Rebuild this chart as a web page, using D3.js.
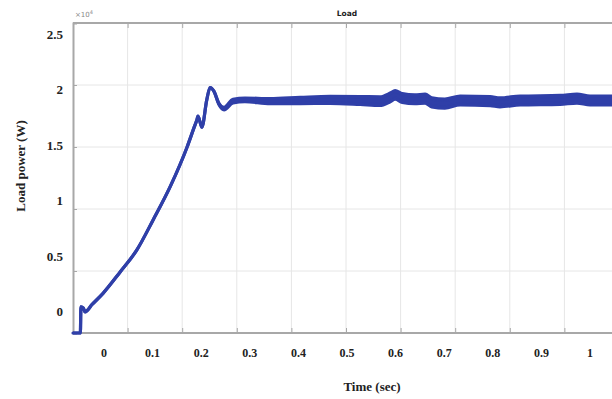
<!DOCTYPE html>
<html><head><meta charset="utf-8">
<script src="https://cdn.jsdelivr.net/npm/d3@7"></script>
<style>body{margin:0;background:#fff}svg{display:block}</style>
</head><body><svg id="c" width="612" height="399"></svg>
<script>
// Time (s) and load power (x10^4 W), ripple = half band width (x10^4 W)
const time   = [0, 0.0135, 0.0145, 0.019, 0.022, 0.035, 0.055, 0.086, 0.117, 0.1465, 0.178, 0.209, 0.222, 0.227, 0.229, 0.236, 0.245, 0.251, 0.258,
                0.267, 0.2766, 0.293, 0.315, 0.361, 0.416, 0.471, 0.526, 0.562, 0.581, 0.590, 0.603, 0.626, 0.645, 0.657, 0.681, 0.709, 0.764, 0.782, 0.819, 0.892, 0.923, 0.947, 1.0];
const power  = [0, 0, 0.21, 0.20, 0.17, 0.23, 0.32, 0.49, 0.67, 0.91, 1.18, 1.50, 1.66, 1.72, 1.75, 1.66, 1.88, 1.98, 1.95,
                1.85, 1.81, 1.87, 1.88, 1.87, 1.875, 1.88, 1.875, 1.87, 1.90, 1.92, 1.895, 1.885, 1.89, 1.86, 1.85, 1.875, 1.87, 1.86, 1.875, 1.88, 1.89, 1.875, 1.875];
const ripple = [0, 0, 0, 0, 0, 0, 0, 0, 0, 0, 0, 0, 0, 0, 0, 0, 0, 0, 0,
                0.005, 0.01, 0.015, 0.015, 0.02, 0.025, 0.028, 0.032, 0.035, 0.035, 0.035, 0.035, 0.035, 0.036, 0.036, 0.036, 0.036, 0.036, 0.036, 0.036, 0.036, 0.036, 0.036, 0.036];
const xTickLabels = ["0","0.1","0.2","0.3","0.4","0.5","0.6","0.7","0.8","0.9","1"];
const xTickValues = [0,0.1,0.2,0.3,0.4,0.5,0.6,0.7,0.8,0.9,1];
const yTickLabels = ["0","0.5","1","1.5","2","2.5"];
const yTickValues = [0,0.5,1,1.5,2,2.5];

const svg = d3.select("#c");
const x = d3.scaleLinear().domain([0,1]).range([73,619]);
const y = d3.scaleLinear().domain([0,2.5]).range([333,23]);
// label placement scales (labels are offset from grid in the reference)
const xl = d3.scaleLinear().domain([0,1]).range([104,590]);
const yl = d3.scaleLinear().domain([0,2.5]).range([312,35]);

const g = svg.append("g");
// grid
g.selectAll(".vg").data(xTickValues.slice(1)).join("line")
  .attr("x1",d=>x(d)).attr("x2",d=>x(d)).attr("y1",y(2.5)).attr("y2",y(0))
  .attr("stroke","#e6e6e6").attr("stroke-width",1);
g.selectAll(".hg").data(yTickValues.slice(1,-1)).join("line")
  .attr("x1",x(0)).attr("x2",612).attr("y1",d=>y(d)).attr("y2",d=>y(d))
  .attr("stroke","#e6e6e6").attr("stroke-width",1);

// axes
const axCol = "#a8a8a8";
const axBottom = svg.append("g").attr("transform",`translate(0,${y(0)})`)
  .call(d3.axisTop(x).tickValues(xTickValues).tickSize(5).tickFormat(""));
const axTop = svg.append("g").attr("transform",`translate(0,${y(2.5)})`)
  .call(d3.axisBottom(x).tickValues(xTickValues).tickSize(5).tickFormat(""));
const axLeft = svg.append("g").attr("transform",`translate(${x(0)},0)`)
  .call(d3.axisRight(y).tickValues(yTickValues).tickSize(4).tickFormat(""));
[axBottom,axTop,axLeft].forEach(a=>{
  a.select(".domain").attr("stroke",axCol).attr("stroke-width",2);
  a.selectAll(".tick line").attr("stroke",axCol);
});
axBottom.select(".domain").attr("d",`M${x(0)},0H612`);
axTop.select(".domain").attr("d",`M${x(0)},0H612`);

// data band + line
const area = d3.area().x((d,i)=>x(time[i])).y0((d,i)=>y(power[i]-ripple[i])).y1((d,i)=>y(power[i]+ripple[i])).curve(d3.curveMonotoneX);
const line = d3.line().x((d,i)=>x(time[i])).y((d,i)=>y(power[i])).curve(d3.curveMonotoneX);
const blue = "#2f3fa8";
svg.append("path").datum(power).attr("d",area).attr("fill",blue).attr("stroke",blue).attr("stroke-width",3.2).attr("stroke-linejoin","round");
svg.append("path").datum(power).attr("d",line).attr("fill","none").attr("stroke",blue).attr("stroke-width",3.2).attr("stroke-linejoin","round");

// tick labels
const font = "'Liberation Serif','Times New Roman',serif";
svg.selectAll(".xl").data(xTickValues).join("text")
  .attr("x",d=>xl(d)).attr("y",357).attr("text-anchor","middle")
  .attr("font-family",font).attr("font-weight","bold").attr("font-size",12).attr("fill","#222")
  .text((d,i)=>xTickLabels[i]);
svg.selectAll(".yl").data(yTickValues).join("text")
  .attr("x",63).attr("y",d=>yl(d)+4).attr("text-anchor","end")
  .attr("font-family",font).attr("font-weight","bold").attr("font-size",13).attr("fill","#222")
  .text((d,i)=>yTickLabels[i]);

// exponent and titles
const ex = svg.append("text").attr("x",75).attr("y",17).attr("font-family","'DejaVu Sans',sans-serif").attr("font-size",7).attr("fill","#888");
ex.append("tspan").text("×10");
ex.append("tspan").attr("dy",-3).attr("font-size",5).text("4");
svg.append("text").attr("x",347).attr("y",16).attr("text-anchor","middle")
  .attr("font-family","'DejaVu Sans',sans-serif").attr("font-weight","bold").attr("font-size",7.5).attr("fill","#222").text("Load");
svg.append("text").attr("x",372).attr("y",391).attr("text-anchor","middle")
  .attr("font-family",font).attr("font-weight","bold").attr("font-size",13).attr("fill","#222").text("Time (sec)");
svg.append("text").attr("transform","translate(25,166) rotate(-90)").attr("text-anchor","middle")
  .attr("font-family",font).attr("font-weight","bold").attr("font-size",13).attr("fill","#222").text("Load power (W)");
</script></body></html>
